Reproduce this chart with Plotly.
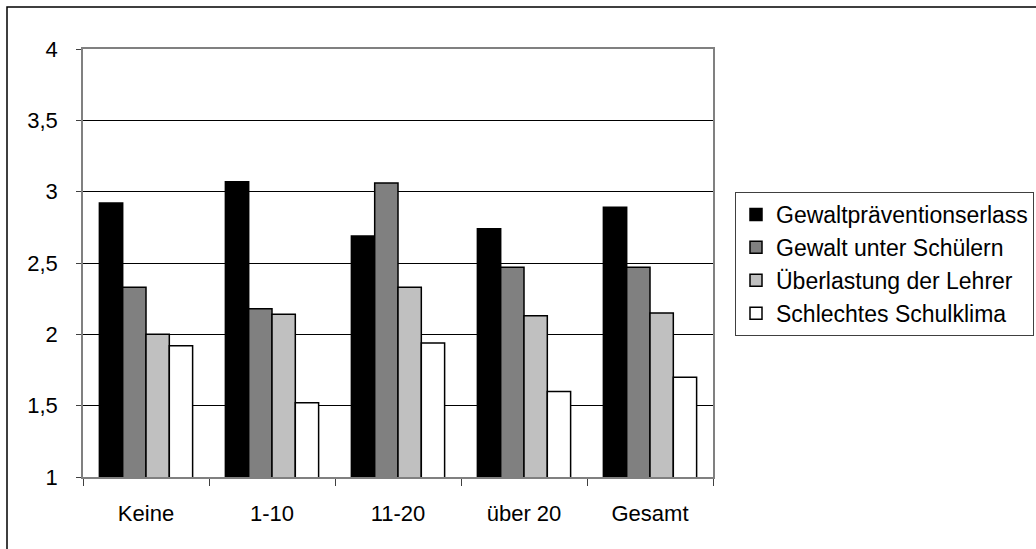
import plotly.graph_objects as go

categories = ["Keine", "1-10", "11-20", "über 20", "Gesamt"]
series_names = ["Gewaltpräventionserlass", "Gewalt unter Schülern",
                "Überlastung der Lehrer", "Schlechtes Schulklima"]
gewaltpraevention = [2.92, 3.07, 2.69, 2.74, 2.89]
gewalt_schueler = [2.33, 2.18, 3.06, 2.47, 2.47]
ueberlastung = [2.00, 2.14, 2.33, 2.13, 2.15]
schulklima = [1.92, 1.52, 1.94, 1.60, 1.70]
colors = ["#000000", "#808080", "#C0C0C0", "#FFFFFF"]
y_ticks = [1, 1.5, 2, 2.5, 3, 3.5, 4]

FONT = "Liberation Sans, Arial, sans-serif"

fig = go.Figure()
for name, vals, col in zip(series_names,
                           [gewaltpraevention, gewalt_schueler, ueberlastung, schulklima],
                           colors):
    fig.add_trace(go.Bar(
        x=categories, y=vals, name=name,
        marker=dict(color=col, line=dict(color="#000000", width=1.5)),
    ))

L, R, T, B = 83, 1036 - 713, 49, 549 - 477
W, H = 1036, 549
pw, ph = W - L - R, H - T - B

fig.update_layout(
    width=W, height=H,
    margin=dict(l=L, r=R, t=T, b=B, pad=0, autoexpand=False),
    paper_bgcolor="white", plot_bgcolor="white",
    barmode="group", bargap=0.26, bargroupgap=0,
    separators=", ",
    font=dict(family=FONT, size=22, color="black"),
    showlegend=True,
    legend=dict(
        x=(735 - L) / pw, y=(477 - 192) / ph, xanchor="left", yanchor="top",
        bgcolor="white", bordercolor="#404040", borderwidth=1,
        font=dict(family=FONT, size=23, color="black"),
        itemwidth=30, tracegroupgap=0,
    ),
    xaxis=dict(
        type="category", showgrid=False,
        showline=True, linecolor="#808080", linewidth=1.5, mirror=True,
        ticks="outside", ticklen=7, tickcolor="#404040", tickwidth=1,
        tickson="boundaries", ticklabelstandoff=16,
        tickfont=dict(family=FONT, size=22, color="black"),
    ),
    yaxis=dict(
        range=[1, 4], tickvals=y_ticks, tickformat=".1~f",
        showgrid=True, gridcolor="#000000", gridwidth=1,
        showline=True, linecolor="#808080", linewidth=1.5, mirror=True,
        ticks="outside", ticklen=5, tickcolor="#404040", tickwidth=1,
        ticklabelstandoff=14, zeroline=False,
        tickfont=dict(family=FONT, size=22, color="black"),
    ),
)

# outer chart border: only left and top edges are visible in the image
x_left = (7 - L) / pw
x_right = (W + 30 - L) / pw
y_top = (477 - 7) / ph
y_bottom = (477 - (H + 30)) / ph
fig.add_shape(
    type="path", xref="paper", yref="paper",
    path=f"M {x_left} {y_bottom} L {x_left} {y_top} L {x_right} {y_top}",
    line=dict(color="#000000", width=1.5),
    layer="above",
)

fig.write_html("out.html")
